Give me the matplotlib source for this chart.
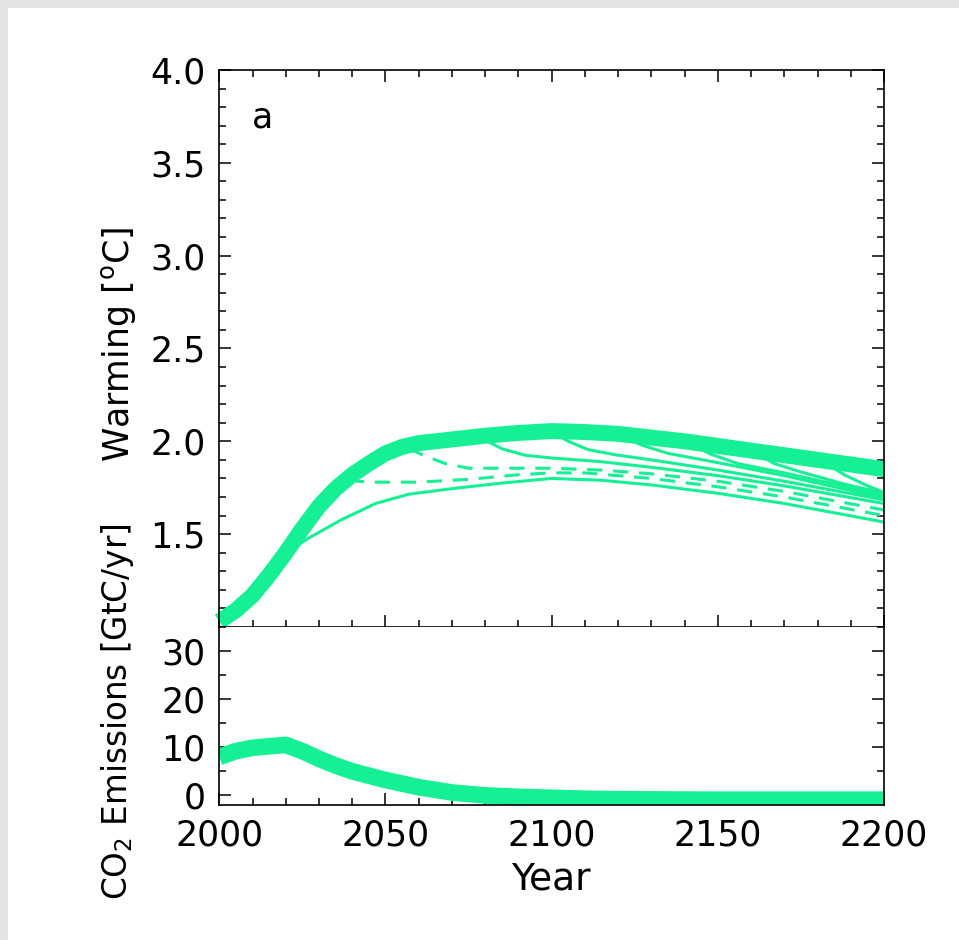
import numpy as np
import matplotlib
matplotlib.use("Agg")
import matplotlib.pyplot as plt
from matplotlib.patches import Rectangle
from matplotlib.ticker import MultipleLocator

plt.rcParams['font.family'] = ['DejaVu Sans']
plt.rcParams['mathtext.default'] = 'regular'

col = '#16f095'

# main (thick) warming path
years_main = [2000, 2005, 2010, 2015, 2020, 2025, 2030, 2035, 2040, 2045, 2050,
              2055, 2060, 2070, 2080, 2090, 2100, 2110, 2120, 2130, 2140, 2150,
              2160, 2170, 2180, 2190, 2200]
warming_main = [1.03, 1.09, 1.17, 1.28, 1.40, 1.53, 1.65, 1.745, 1.82, 1.88, 1.935,
                1.97, 1.99, 2.01, 2.03, 2.045, 2.055, 2.05, 2.04, 2.02, 2.00, 1.975,
                1.95, 1.925, 1.90, 1.875, 1.85]

# thin solid branches
yrs_b2020 = [2020, 2027, 2037, 2047, 2057, 2070, 2085, 2100, 2115, 2130, 2150, 2170, 2200]
val_b2020 = [1.40, 1.48, 1.58, 1.665, 1.715, 1.745, 1.775, 1.80, 1.79, 1.765, 1.72, 1.665, 1.565]
yrs_b2078 = [2078, 2085, 2092, 2100, 2115, 2130, 2150, 2170, 2200]
val_b2078 = [2.025, 1.96, 1.925, 1.91, 1.89, 1.86, 1.815, 1.76, 1.665]
yrs_b2100 = [2100, 2105, 2111, 2120, 2130, 2150, 2170, 2200]
val_b2100 = [2.05, 2.00, 1.955, 1.925, 1.90, 1.845, 1.785, 1.685]
yrs_b2120 = [2120, 2127, 2135, 2150, 2170, 2200]
val_b2120 = [2.04, 1.98, 1.935, 1.885, 1.815, 1.695]
yrs_b2140 = [2140, 2148, 2156, 2170, 2185, 2200]
val_b2140 = [2.00, 1.93, 1.88, 1.83, 1.77, 1.705]
yrs_b2160 = [2160, 2167, 2175, 2188, 2200]
val_b2160 = [1.95, 1.88, 1.835, 1.77, 1.72]
yrs_b2180 = [2181, 2188, 2195, 2200]
val_b2180 = [1.90, 1.82, 1.76, 1.725]

# dashed branches
yrs_d2039 = [2039, 2045, 2060, 2075, 2090, 2100, 2110, 2130, 2150, 2170, 2200]
val_d2039 = [1.79, 1.78, 1.78, 1.795, 1.82, 1.83, 1.83, 1.80, 1.755, 1.70, 1.60]
yrs_d2057 = [2057, 2062, 2068, 2075, 2090, 2100, 2115, 2130, 2150, 2170, 2200]
val_d2057 = [1.96, 1.92, 1.88, 1.855, 1.855, 1.855, 1.845, 1.825, 1.785, 1.73, 1.63]

# emissions
years_em = [2000, 2005, 2010, 2015, 2020, 2025, 2030, 2035, 2040, 2050, 2060, 2070,
            2080, 2090, 2100, 2110, 2120, 2150, 2200]
emissions = [8.0, 9.2, 9.9, 10.2, 10.5, 9.2, 7.6, 6.2, 5.0, 3.2, 1.7, 0.6,
             0.0, -0.3, -0.5, -0.7, -0.8, -0.9, -0.9]

solid_branches = [(yrs_b2020, val_b2020), (yrs_b2078, val_b2078), (yrs_b2100, val_b2100),
                  (yrs_b2120, val_b2120), (yrs_b2140, val_b2140), (yrs_b2160, val_b2160),
                  (yrs_b2180, val_b2180)]
dashed_branches = [(yrs_d2039, val_d2039), (yrs_d2057, val_d2057)]

fig = plt.figure(figsize=(9.59, 9.40), dpi=100, facecolor='#e4e4e4')
fig.add_artist(Rectangle((8 / 959, 0), 1, 1 - 8 / 940, transform=fig.transFigure,
                         facecolor='white', edgecolor='none', zorder=-1))

ax1 = fig.add_axes([0.2287, 0.333, 0.6931, 0.5926])
ax2 = fig.add_axes([0.2287, 0.1436, 0.6931, 0.1894])

for yr, v in solid_branches:
    ax1.plot(yr, v, color=col, lw=2.2, solid_capstyle='round')
for yr, v in dashed_branches:
    ax1.plot(yr, v, color=col, lw=2.2, dashes=(5, 3.5))
ax1.plot(years_main, warming_main, color=col, lw=11.5, solid_capstyle='butt', clip_on=False)

ax2.plot(years_em, emissions, color=col, lw=12, solid_capstyle='butt')

ax1.set_xlim(2000, 2200)
ax1.set_ylim(1.0, 4.0)
ax2.set_xlim(2000, 2200)
ax2.set_ylim(-2, 35)

for ax in (ax1, ax2):
    ax.xaxis.set_major_locator(MultipleLocator(50))
    ax.xaxis.set_minor_locator(MultipleLocator(10))
    ax.tick_params(which='both', direction='in', top=True, right=True,
                   width=1.1, labelsize=25, pad=10)
    ax.tick_params(which='major', length=8.5)
    ax.tick_params(which='minor', length=4.7)
    for s in ax.spines.values():
        s.set_linewidth(1.2)

ax1.yaxis.set_minor_locator(MultipleLocator(0.1))
ax1.set_yticks([1.5, 2.0, 2.5, 3.0, 3.5, 4.0])
ax1.set_yticklabels(['1.5', '2.0', '2.5', '3.0', '3.5', '4.0'])
ax1.tick_params(labelbottom=False)

ax2.set_yticks([0, 10, 20, 30])
ax2.yaxis.set_minor_locator(MultipleLocator(5))
ax2.tick_params(top=False, which='both')
ax2.spines['top'].set_visible(False)

ax1.text(0.065, 0.914, 'a', transform=ax1.transAxes, fontsize=25,
         ha='center', va='center')

fig.text(118 / 959, 1 - 344 / 940, 'Warming [$^{o}$C]', rotation=90,
         ha='center', va='center', fontsize=25)
fig.text(118 / 959, 1 - 712 / 940, 'CO$_2$ Emissions [GtC/yr]', rotation=90,
         ha='center', va='center', fontsize=23.5)
fig.text(551 / 959, 1 - 880 / 940, 'Year', ha='center', va='center', fontsize=27)

fig.savefig('out.png', dpi=100, facecolor=fig.get_facecolor())
